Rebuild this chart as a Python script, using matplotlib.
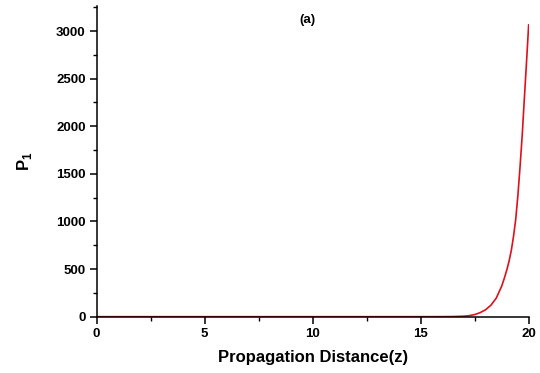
import matplotlib
matplotlib.use("Agg")
import matplotlib.pyplot as plt
from matplotlib.ticker import MultipleLocator

# Values
z = [0, 5, 10, 15, 16, 16.5, 17, 17.25, 17.5, 17.75, 18, 18.25, 18.5, 18.75,
     18.875, 19, 19.1, 19.2, 19.3, 19.4, 19.5, 19.6, 19.7, 19.8, 19.9, 20]
P1 = [0, 0, 0, 0, 0.5, 1.5, 5, 11, 22, 42, 72, 120, 195, 320,
      405, 500, 590, 700, 845, 1020, 1270, 1570, 1900, 2290, 2670, 3064]
x_ticks = [0, 5, 10, 15, 20]
y_ticks = [0, 500, 1000, 1500, 2000, 2500, 3000]

plt.rcParams['font.family'] = ['Liberation Sans', 'DejaVu Sans']
plt.rcParams['font.weight'] = 'bold'
plt.rcParams['mathtext.fontset'] = 'custom'
plt.rcParams['mathtext.rm'] = 'Liberation Sans:bold'
plt.rcParams['mathtext.bf'] = 'Liberation Sans:bold'

fig = plt.figure(figsize=(5.4, 3.73), dpi=100)
ax = fig.add_axes([0.179, 0.151, 0.800, 0.833])
ax.plot(z, P1, color='#e0101a', lw=1.2)

ax.set_xlim(0, 20)
ax.set_ylim(0, 3263)
ax.set_xticks(x_ticks)
ax.set_yticks(y_ticks)
ax.xaxis.set_minor_locator(MultipleLocator(2.5))
ax.yaxis.set_minor_locator(MultipleLocator(250))
ax.spines['top'].set_visible(False)
ax.spines['right'].set_visible(False)
for s in ('left', 'bottom'):
    ax.spines[s].set_linewidth(1.1)
ax.tick_params(which='major', direction='out', length=5, width=1.1, labelsize=9.5, pad=3)
ax.tick_params(which='minor', direction='out', length=3, width=1.0)
for lab in ax.get_xticklabels() + ax.get_yticklabels():
    lab.set_fontweight('bold')

ax.set_xlabel('Propagation Distance(z)', fontsize=12, fontweight='bold', labelpad=7)
ax.set_ylabel('P$_\\mathrm{1}$', fontsize=12, fontweight='bold', labelpad=16)
ax.text(0.487, 0.975, '(a)', transform=ax.transAxes, ha='center', va='top',
        fontsize=9.5, fontweight='bold')

fig.savefig('out.png', dpi=100)
